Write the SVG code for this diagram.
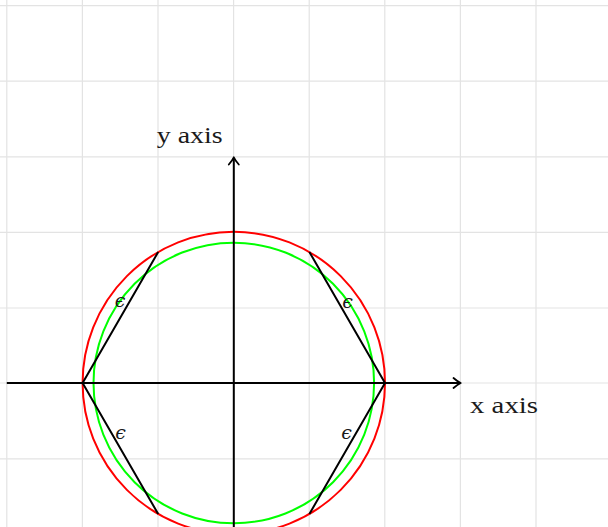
<svg xmlns="http://www.w3.org/2000/svg" width="608" height="527" viewBox="0 0 608 527">
<style>
.grid{stroke:#e3e3e3;stroke-width:1.2;fill:none}
.ax{stroke:#000;stroke-width:2;fill:none}
.tip{stroke:#000;stroke-width:1.8;fill:none;stroke-linecap:round;stroke-linejoin:round}
.hex{stroke:#000;stroke-width:2;fill:none;stroke-linejoin:round}
.lbl{font-family:"Liberation Serif","DejaVu Serif",serif;font-size:23px;fill:#1a1a1a}
.eps{font-family:"DejaVu Serif","Liberation Serif",serif;font-style:italic;font-size:19px;fill:#1a1a1a}
</style>
<rect width="608" height="527" fill="#fff"/>
<g id="grid" class="grid">
<path d="M6.8 0V527M82.4 0V527M158 0V527M233.6 0V527M309.2 0V527M384.8 0V527M460.4 0V527M536 0V527"/>
<path d="M0 5.6H608M0 81.2H608M0 156.8H608M0 232.4H608M0 308H608M0 383H608M0 458.8H608"/>
</g>
<g id="circles">
<circle id="red-circle" cx="233.8" cy="383" r="151.2" fill="none" stroke="#ff0000" stroke-width="2"/>
<circle id="green-circle" cx="233.8" cy="383" r="140.3" fill="none" stroke="#00ff00" stroke-width="2"/>
</g>
<g id="connectors">
<g id="hexagon-edges" class="hex">
<path d="M309.4 252 L385 383 L309.4 514"/>
<path d="M158.2 252 L82.6 383 L158.2 514"/>
</g>
<g id="axes">
<line class="ax" x1="6.8" y1="383" x2="460" y2="383"/>
<path class="tip" d="M453.5 378 Q457.5 381.5 460.7 383 Q457.5 384.5 453.5 388"/>
<line class="ax" x1="233.8" y1="527" x2="233.8" y2="158"/>
<path class="tip" d="M228.8 164.5 Q232.3 160.5 233.8 157.3 Q235.3 160.5 238.8 164.5"/>
</g>
</g>
<g id="labels">
<text id="y-label" class="lbl" x="156.7" y="142.7" textLength="66" lengthAdjust="spacingAndGlyphs">y axis</text>
<text id="x-label" class="lbl" x="470" y="412.7" textLength="68" lengthAdjust="spacingAndGlyphs">x axis</text>
<text class="eps" x="347.5" y="307.5" text-anchor="middle">ϵ</text>
<text class="eps" x="120" y="307" text-anchor="middle">ϵ</text>
<text class="eps" x="120.5" y="439" text-anchor="middle">ϵ</text>
<text class="eps" x="346.7" y="438.5" text-anchor="middle">ϵ</text>
</g>
</svg>
